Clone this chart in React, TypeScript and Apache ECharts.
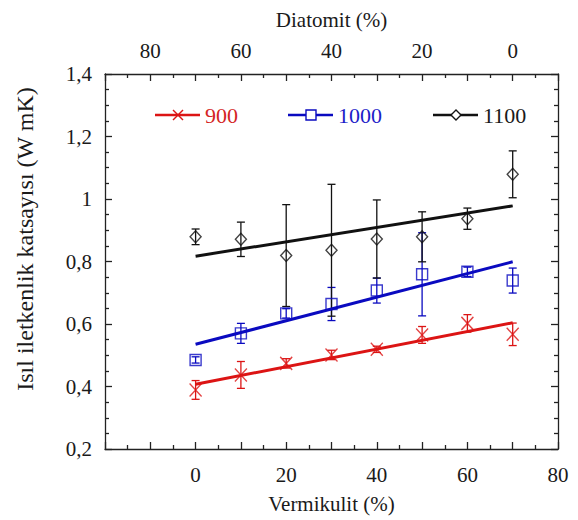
import React, { useEffect, useRef } from "react";
import * as echarts from "echarts";

// Vermikulit (%) positions of the measurements
const vermikulit = [0, 10, 20, 30, 40, 50, 60, 70];

// Thermal conductivity (W mK) for firing temperatures
const k900 = [0.389, 0.437, 0.474, 0.501, 0.519, 0.565, 0.602, 0.567];
const err900 = [0.03, 0.043, 0.015, 0.015, 0.01, 0.027, 0.028, 0.036];
const k1000 = [0.485, 0.57, 0.634, 0.664, 0.707, 0.759, 0.767, 0.739];
const err1000 = [0.01, 0.032, 0.015, 0.053, 0.04, 0.133, 0.015, 0.04];
const k1100 = [0.879, 0.871, 0.819, 0.836, 0.872, 0.879, 0.937, 1.079];
const err1100 = [0.025, 0.055, 0.163, 0.211, 0.125, 0.08, 0.034, 0.075];

// Linear fit endpoints (at vermikulit 0 and 70)
const fitX = [0, 70];
const fit900 = [0.407, 0.604];
const fit1000 = [0.535, 0.799];
const fit1100 = [0.817, 0.978];

const legendNames = ["900", "1000", "1100"];
const yTicks = ["0,2", "0,4", "0,6", "0,8", "1", "1,2", "1,4"];

const RED = "#dc1414";
const BLUE = "#0a0ac0";
const BLACK = "#111111";
const FONT = "'Liberation Serif', 'Times New Roman', serif";
const TXT = "#1a1a1a";

const crossPath = "path://M0,0L10,10M10,0L0,10";

function errData(vals: number[], errs: number[]) {
  return vermikulit.map((x, i) => [x, vals[i] - errs[i], vals[i] + errs[i]]);
}

function errSeries(vals: number[], errs: number[], color: string) {
  return {
    type: "custom",
    xAxisIndex: 0,
    yAxisIndex: 0,
    data: errData(vals, errs),
    encode: { x: 0, y: [1, 2] },
    z: 2,
    renderItem: (params: any, api: any) => {
      const x = api.value(0);
      const lo = api.value(1);
      const hi = api.value(2);
      const p1 = api.coord([x, hi]);
      const p2 = api.coord([x, lo]);
      const w = 4;
      const st = { stroke: color, lineWidth: 1.3 };
      return {
        type: "group",
        children: [
          { type: "line", shape: { x1: p1[0], y1: p1[1], x2: p2[0], y2: p2[1] }, style: st },
          { type: "line", shape: { x1: p1[0] - w, y1: p1[1], x2: p1[0] + w, y2: p1[1] }, style: st },
          { type: "line", shape: { x1: p2[0] - w, y1: p2[1], x2: p2[0] + w, y2: p2[1] }, style: st },
        ],
      };
    },
  };
}

function fitSeries(vals: number[], color: string) {
  return {
    type: "line",
    xAxisIndex: 0,
    yAxisIndex: 0,
    data: fitX.map((x, i) => [x, vals[i]]),
    symbol: "none",
    lineStyle: { color, width: 3 },
    z: 3,
  };
}

function markerSeries(vals: number[], color: string, symbol: string, size: any) {
  return {
    type: "scatter",
    xAxisIndex: 0,
    yAxisIndex: 0,
    data: vermikulit.map((x, i) => [x, vals[i]]),
    symbol,
    symbolSize: size,
    itemStyle: { color: "rgba(0,0,0,0)", borderColor: color, borderWidth: 1.4 },
    z: 4,
  };
}

const axisLineStyle = { show: true, onZero: false, lineStyle: { color: "#222", width: 1.3 } };
const tickStyle = { show: true, inside: true, length: 7, lineStyle: { color: "#222", width: 1.3 } };
const minorStyle = (n: number) => ({ show: true, splitNumber: n, length: 4, lineStyle: { color: "#222", width: 1.3 } });
const labelBase = { fontSize: 21, fontFamily: FONT, color: TXT };

export default function App() {
  const ref = useRef<HTMLDivElement>(null);
  useEffect(() => {
    if (!ref.current) return;
    const chart = echarts.init(ref.current, undefined, { renderer: "svg" });
    const lx = [155, 288, 433];
    const ly = 115;
    const colors = [RED, BLUE, BLACK];
    const textColors = ["#d42424", "#1c1cc8", "#1a1a1a"];
    const legendEls: any[] = [];
    legendNames.forEach((name, i) => {
      const x0 = lx[i];
      const c = colors[i];
      const cx = x0 + 23;
      legendEls.push({ type: "line", shape: { x1: x0, y1: ly, x2: x0 + 45, y2: ly }, style: { stroke: c, lineWidth: 2.5 } });
      if (i === 0) {
        legendEls.push({ type: "line", shape: { x1: cx - 5, y1: ly - 5, x2: cx + 5, y2: ly + 5 }, style: { stroke: c, lineWidth: 1.4 } });
        legendEls.push({ type: "line", shape: { x1: cx - 5, y1: ly + 5, x2: cx + 5, y2: ly - 5 }, style: { stroke: c, lineWidth: 1.4 } });
      } else if (i === 1) {
        legendEls.push({ type: "rect", shape: { x: cx - 5, y: ly - 5, width: 10, height: 10 }, style: { fill: "#fff", stroke: c, lineWidth: 1.4 } });
      } else {
        legendEls.push({ type: "polygon", shape: { points: [[cx, ly - 5], [cx + 5, ly], [cx, ly + 5], [cx - 5, ly]] }, style: { fill: "#fff", stroke: c, lineWidth: 1.4 } });
      }
      legendEls.push({
        type: "text",
        x: x0 + 50,
        y: ly,
        style: { text: name, fontSize: 22, fontFamily: FONT, fill: textColors[i], align: "left", verticalAlign: "middle" },
      });
    });

    chart.setOption({
      animation: false,
      backgroundColor: "#ffffff",
      grid: { left: 105, top: 74, width: 453, height: 375, containLabel: false },
      xAxis: [
        {
          type: "value",
          position: "bottom",
          min: -20,
          max: 80,
          interval: 10,
          axisLine: axisLineStyle,
          axisTick: tickStyle,
          minorTick: minorStyle(2),
          splitLine: { show: false },
          axisLabel: {
            ...labelBase,
            margin: 15,
            formatter: (v: number) => (v >= 0 && Math.round(v) % 20 === 0 ? String(Math.round(v)) : ""),
          },
          name: "Vermikulit (%)",
          nameLocation: "middle",
          nameGap: 44,
          nameTextStyle: { fontSize: 21, fontFamily: FONT, color: TXT },
        },
        {
          type: "value",
          position: "top",
          inverse: true,
          min: -10,
          max: 90,
          interval: 10,
          axisLine: axisLineStyle,
          axisTick: tickStyle,
          minorTick: minorStyle(2),
          splitLine: { show: false },
          axisLabel: {
            ...labelBase,
            margin: 13,
            formatter: (v: number) => (v >= 0 && v <= 80 && Math.round(v) % 20 === 0 ? String(Math.round(v)) : ""),
          },
          name: "Diatomit (%)",
          nameLocation: "middle",
          nameGap: 44,
          nameTextStyle: { fontSize: 21, fontFamily: FONT, color: TXT },
        },
      ],
      yAxis: [
        {
          type: "value",
          position: "left",
          min: 0.2,
          max: 1.4,
          interval: 0.2,
          axisLine: axisLineStyle,
          axisTick: tickStyle,
          minorTick: minorStyle(4),
          splitLine: { show: false },
          axisLabel: {
            ...labelBase,
            margin: 13,
            formatter: (v: number) => {
              const idx = Math.round((v - 0.2) / 0.2);
              return yTicks[idx] ?? "";
            },
          },
        },
        {
          type: "value",
          position: "right",
          min: 0.2,
          max: 1.4,
          interval: 0.2,
          axisLine: axisLineStyle,
          axisTick: tickStyle,
          minorTick: minorStyle(4),
          splitLine: { show: false },
          axisLabel: { show: false },
        },
      ],
      graphic: [
        {
          type: "text",
          x: 25,
          y: 239,
          rotation: Math.PI / 2,
          style: {
            text: "Isıl iletkenlik katsayısı (W mK)",
            fontSize: 24,
            fontFamily: FONT,
            fill: TXT,
            align: "center",
            verticalAlign: "middle",
          },
        },
        ...legendEls,
      ],
      series: [
        errSeries(k900, err900, RED),
        errSeries(k1000, err1000, BLUE),
        errSeries(k1100, err1100, BLACK),
        fitSeries(fit900, RED),
        fitSeries(fit1000, BLUE),
        fitSeries(fit1100, BLACK),
        markerSeries(k900, RED, crossPath, [12, 13]),
        markerSeries(k1000, BLUE, "rect", [11, 11]),
        markerSeries(k1100, BLACK, "diamond", [11, 12]),
      ],
    });
    return () => chart.dispose();
  }, []);
  return (
    <div
      ref={ref}
      style={{ position: "absolute", left: 0, top: 0, width: 578, height: 520, background: "#fff" }}
    />
  );
}
